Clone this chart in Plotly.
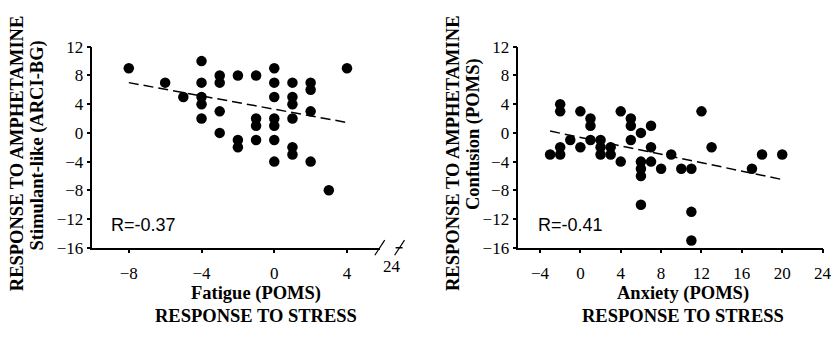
import plotly.graph_objects as go

W, H = 840, 337

# ---- data: left panel (Fatigue vs Stimulant-like) ----
fatigue_x = [-8, -6, -5, -4, -4, -4, -4, -4, -3, -3, -3, -3, -2, -2, -2,
             -1, -1, -1, -1, 0, 0, 0, 0, 0, 0, 0, 1, 1, 1, 1, 1, 1,
             2, 2, 2, 2, 3, 4]
stim_y = [9, 7, 5, 10, 7, 5, 4, 2, 8, 7, 3, 0, 8, -1, -2,
          8, 2, 1, -1, 9, 7, 5, 2, 1, -1, -4, 7, 5, 4, 2, -2, -3,
          7, 6, 3, -4, -8, 9]
fit1_x = [-8, 4]
fit1_y = [7.0, 1.45]
r1_label = "R=-0.37"

# ---- data: right panel (Anxiety vs Confusion) ----
anx_x = [-3, -2, -2, -2, -2, -1, 0, 0, 1, 1, 1, 2, 2, 2, 3, 3, 4, 4,
         5, 5, 5, 6, 6, 6, 6, 6, 7, 7, 7, 8, 9, 10, 11, 11, 11, 12, 13,
         17, 18, 20]
conf_y = [-3, 4, 3, -2, -3, -1, 3, -2, 2, 1, -1, -1, -2, -3, -2, -3, 3, -4,
          2, 1, -1, 0, -4, -5, -6, -10, 1, -2, -4, -5, -3, -5, -5, -11, -15, 3, -2,
          -5, -3, -3]
fit2_x = [-3, 20]
fit2_y = [0.25, -6.5]
r2_label = "R=-0.41"

# ---- ticks ----
y_ticks = [12, 8, 4, 0, -4, -8, -12, -16]
x1_ticks = [-8, -4, 0, 4]
x1_break_label = "24"
x2_ticks = [-4, 0, 4, 8, 12, 16, 20, 24]

serif = "Liberation Serif"
sans = "Liberation Sans"

x1_range = [-10, 5.8]
x2_range = [-6.15, 24.05]
y_range = [-16, 12]

dom_y = [(H - 253.0) / H, (H - 40) / H]
dom_x1 = [93.3 / W, 383.4 / W]
dom_x2 = [523.3 / W, 831.0 / W]

fig = go.Figure()

fig.add_trace(go.Scatter(x=fatigue_x, y=stim_y, mode="markers",
                         marker=dict(size=10.5, color="black", line=dict(width=0)),
                         xaxis="x", yaxis="y", showlegend=False))
fig.add_trace(go.Scatter(x=fit1_x, y=fit1_y, mode="lines",
                         line=dict(color="black", width=1.5, dash="10px,5px"),
                         xaxis="x", yaxis="y", showlegend=False))
fig.add_trace(go.Scatter(x=anx_x, y=conf_y, mode="markers",
                         marker=dict(size=10.5, color="black", line=dict(width=0)),
                         xaxis="x2", yaxis="y2", showlegend=False))
fig.add_trace(go.Scatter(x=fit2_x, y=fit2_y, mode="lines",
                         line=dict(color="black", width=1.5, dash="10px,5px"),
                         xaxis="x2", yaxis="y2", showlegend=False))

tickfont = dict(family=serif, size=17, color="black")
common_x = dict(showgrid=False, zeroline=False, showline=True, linecolor="black",
                linewidth=1.5, ticks="outside", ticklen=4, tickwidth=1.5,
                tickcolor="black", tickfont=tickfont, ticklabelstandoff=5)
common_y = dict(showgrid=False, zeroline=False, showline=True, linecolor="black",
                linewidth=1.5, ticks="outside", ticklen=4, tickwidth=1.5,
                tickcolor="black", tickfont=tickfont, range=y_range,
                tickvals=y_ticks, domain=dom_y)

fig.update_layout(
    width=W, height=H,
    margin=dict(l=0, r=0, t=0, b=0),
    paper_bgcolor="white", plot_bgcolor="white",
    xaxis=dict(common_x, domain=dom_x1, range=x1_range, tickvals=x1_ticks, anchor="y"),
    yaxis=dict(common_y, anchor="x"),
    xaxis2=dict(common_x, domain=dom_x2, range=x2_range, tickvals=x2_ticks, anchor="y2"),
    yaxis2=dict(common_y, anchor="x2"),
)

# axis break on left x axis
ypx = (dom_y[1] - dom_y[0]) * H
xpx1 = (dom_x1[1] - dom_x1[0]) * W
def dxf(px):
    return px / xpx1
def dyf(px):
    return px / ypx

for cx in [0.0, dxf(20)]:
    fig.add_shape(type="line", xref="x domain", yref="y domain",
                  x0=1 + cx - dxf(5), y0=-dyf(8), x1=1 + cx + dxf(5), y1=dyf(8),
                  line=dict(color="black", width=1.2))
fig.add_shape(type="line", xref="x domain", yref="y domain",
              x0=1 + dxf(16), y0=0, x1=1 + dxf(23), y1=0,
              line=dict(color="black", width=1.5))
fig.add_annotation(text=x1_break_label, xref="x domain", yref="y domain",
                   x=1 + dxf(12), y=-dyf(20), showarrow=False,
                   font=tickfont, xanchor="center", yanchor="middle")

# R labels
fig.add_annotation(text=r1_label, xref="paper", yref="paper",
                   x=110 / W, y=(H - 229) / H, xanchor="left", yanchor="middle",
                   showarrow=False, font=dict(family=sans, size=18, color="black"))
fig.add_annotation(text=r2_label, xref="paper", yref="paper",
                   x=541 / W, y=(H - 229) / H, xanchor="left", yanchor="middle",
                   showarrow=False, font=dict(family=sans, size=18, color="black"))

bold = dict(family=serif, size=18.5, color="black")
# axis titles
def ann(text, xp, yp, angle=0):
    fig.add_annotation(text="<b>%s</b>" % text, xref="paper", yref="paper",
                       x=xp / W, y=(H - yp) / H, xanchor="center", yanchor="middle",
                       showarrow=False, font=bold, textangle=angle)

ann("Fatigue (POMS)", 258, 301)
ann("RESPONSE TO STRESS", 258, 325)
ann("Anxiety (POMS)", 690, 302)
ann("RESPONSE TO STRESS", 690, 325)
ann("RESPONSE TO AMPHETAMINE", 18, 153, -90)
ann("Stimulant-like (ARCI-BG)", 38, 145, -90)
ann("RESPONSE TO AMPHETAMINE", 458, 153, -90)
ann("Confusion (POMS)", 478, 132, -90)

fig.write_html("out.html", config={"displayModeBar": False},
               post_script="document.body.style.margin='0';")
